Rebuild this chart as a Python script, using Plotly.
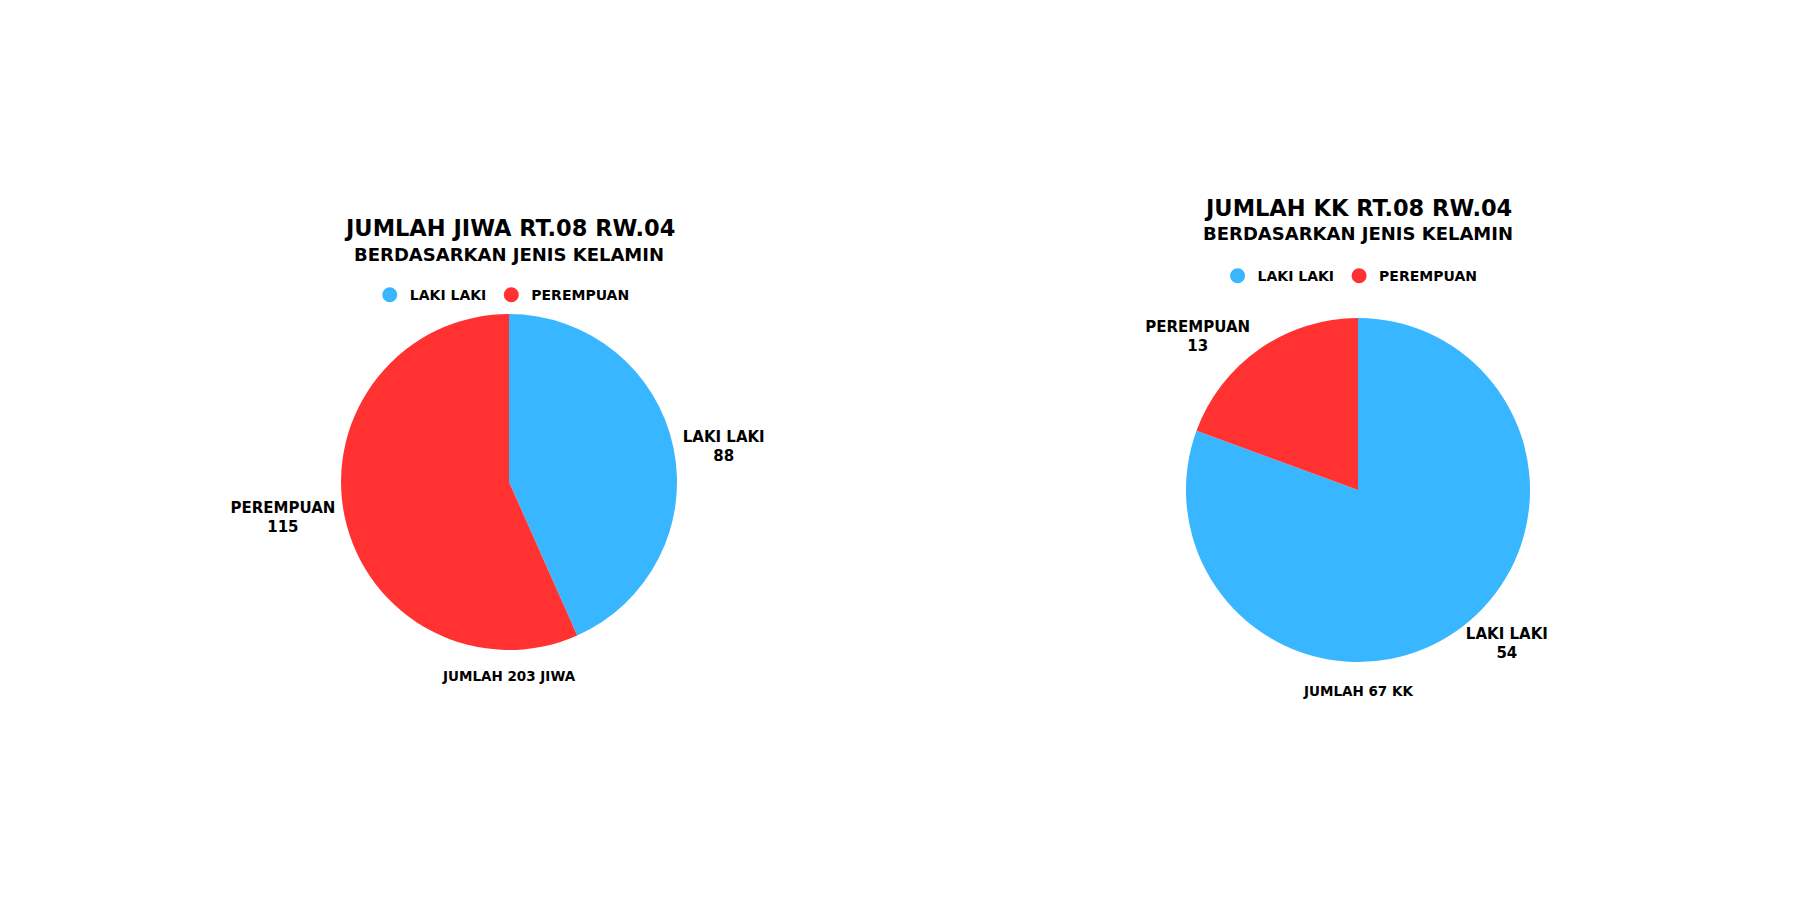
import plotly.graph_objects as go

labels = ["LAKI LAKI", "PEREMPUAN"]
jiwa_values = [88, 115]
kk_values = [54, 13]
colors = ["#38B6FF", "#FF3131"]

jiwa_title = "JUMLAH JIWA RT.08 RW.04"
kk_title = "JUMLAH KK RT.08 RW.04"
subtitle = "BERDASARKAN JENIS KELAMIN"
jiwa_total = "JUMLAH %d JIWA" % sum(jiwa_values)
kk_total = "JUMLAH %d KK" % sum(kk_values)

FONT = "DejaVu Sans"

fig = go.Figure()

pie_style = dict(
    marker=dict(colors=colors, line=dict(width=0)),
    sort=False,
    direction="clockwise",
    rotation=0,
    textposition="outside",
    textinfo="label+value",
    textfont=dict(family=FONT, size=15, color="black", weight="bold"),
    showlegend=False,
    hoverinfo="label+value+percent",
)

fig.add_trace(go.Pie(labels=labels, values=jiwa_values,
                     domain=dict(x=[0.1850, 0.3717], y=[0.2867, 0.6600]), **pie_style))
fig.add_trace(go.Pie(labels=labels, values=kk_values,
                     domain=dict(x=[0.6544, 0.8456], y=[0.2733, 0.6556]), **pie_style))

# legend entries with round markers, one legend per pie
for legend_name in ["legend", "legend2"]:
    for lab, col in zip(labels, colors):
        fig.add_trace(go.Scatter(x=[None], y=[None], mode="markers", name=lab,
                                 marker=dict(color=col, size=15, symbol="circle"),
                                 legend=legend_name, hoverinfo="skip"))

legend_style = dict(orientation="h", xanchor="center", yanchor="middle",
                    font=dict(family=FONT, size=14, color="black", weight="bold"),
                    bgcolor="rgba(0,0,0,0)", itemclick=False, itemdoubleclick=False)

fig.update_layout(
    width=1800, height=900,
    margin=dict(l=0, r=0, t=0, b=0),
    paper_bgcolor="white", plot_bgcolor="white",
    xaxis=dict(visible=False), yaxis=dict(visible=False),
    legend=dict(x=0.2746, y=0.681, **legend_style),
    legend2=dict(x=0.7456, y=0.702, **legend_style),
    font=dict(family=FONT, color="black"),
)

def note(text, x, y, size):
    fig.add_annotation(text=text, x=x, y=y, xref="paper", yref="paper",
                       showarrow=False, xanchor="center", yanchor="middle",
                       font=dict(family=FONT, size=size, color="black", weight="bold"))

note(jiwa_title, 0.2786, 0.756, 22.5)
note(subtitle, 0.2786, 0.726, 18)
note(kk_title, 0.7501, 0.778, 22.5)
note(subtitle, 0.7501, 0.749, 18)
note(jiwa_total, 0.2786, 0.258, 13.5)
note(kk_total, 0.7501, 0.241, 13.5)

fig.write_html("out.html")
